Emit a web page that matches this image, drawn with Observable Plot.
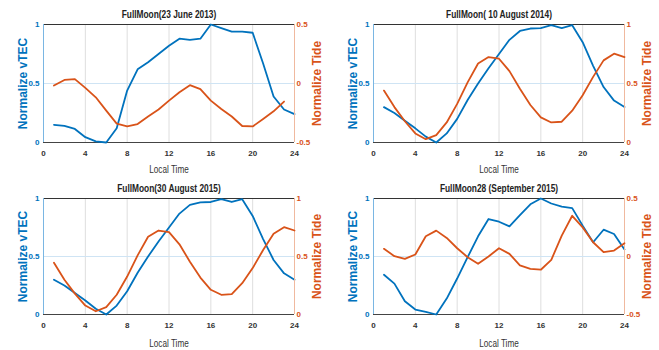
<!DOCTYPE html>
<html>
<head>
<meta charset="utf-8">
<script src="https://cdn.jsdelivr.net/npm/d3@7"></script>
<script src="https://cdn.jsdelivr.net/npm/@observablehq/plot@0.6"></script>
<style>
  html, body { margin: 0; padding: 0; background: #fff; }
  #wrap { position: relative; width: 659px; height: 350px; background: #fff; overflow: hidden; }
  .panel { position: absolute; }
  .panel svg { position: absolute; left: 0; top: 0; }
</style>
</head>
<body>
<div id="wrap"></div>
<script>
// ---- data ----
const hours = [1,2,3,4,5,6,7,8,9,10,11,12,13,14,15,16,17,18,19,20,21,22,23,24];
const xTicks = [0,4,8,12,16,20,24];

const titles = [
  "FullMoon(23 June 2013)",
  "FullMoon( 10 August 2014)",
  "FullMoon(30 August 2015)",
  "FullMoon28 (September 2015)"
];

const vtec2013 = [0.15,0.14,0.115,0.045,0.01,0.0,0.12,0.44,0.62,0.68,0.75,0.82,0.88,0.87,0.88,1.0,0.97,0.94,0.94,0.93,0.67,0.39,0.28,0.24];
const tide2013 = [-0.017,0.03,0.037,-0.037,-0.117,-0.23,-0.34,-0.364,-0.344,-0.28,-0.22,-0.145,-0.074,-0.014,-0.048,-0.145,-0.216,-0.28,-0.36,-0.364,-0.3,-0.236,-0.153];

const vtec2014 = [0.30,0.25,0.185,0.12,0.05,0.0,0.077,0.2,0.36,0.5,0.63,0.75,0.87,0.945,0.966,0.97,0.994,0.97,0.994,0.85,0.65,0.47,0.355,0.30];
const tide2014 = [0.44,0.30,0.18,0.077,0.028,0.063,0.17,0.327,0.51,0.67,0.724,0.71,0.605,0.455,0.318,0.213,0.17,0.176,0.27,0.4,0.556,0.696,0.753,0.724];

const vtecAug2015 = [0.30,0.25,0.185,0.12,0.05,0.0,0.077,0.2,0.36,0.5,0.63,0.75,0.87,0.945,0.966,0.97,0.994,0.97,0.994,0.85,0.65,0.47,0.355,0.30];
const tideAug2015 = [0.446,0.30,0.18,0.077,0.028,0.063,0.17,0.327,0.51,0.67,0.724,0.71,0.605,0.455,0.318,0.213,0.17,0.176,0.27,0.4,0.556,0.696,0.753,0.724];

const vtecSep2015 = [0.343,0.266,0.114,0.043,0.023,0.0,0.137,0.31,0.494,0.674,0.823,0.8,0.76,0.857,0.95,1.0,0.957,0.93,0.917,0.766,0.623,0.731,0.694,0.56];
const tideSep2015 = [0.066,0.003,-0.02,0.017,0.174,0.223,0.16,0.071,-0.006,-0.063,0.0,0.071,0.023,-0.077,-0.106,-0.114,-0.029,0.18,0.351,0.251,0.123,0.037,0.051,0.114];

const vtecTicks = [0, 0.5, 1];
const tideTicksSym = [-0.5, 0, 0.5];
const tideTicksPos = [0, 0.5, 1];

// ---- style ----
const BLUE = "#0072BD";
const ORANGE = "#D95319";
const FONT = "'Liberation Sans', Arial, sans-serif";

const panels = [
  {title: titles[0], vtec: vtec2013, tide: tide2013, tideDomain: [-0.5, 0.5], tideTicks: tideTicksSym, left: 0, top: 0, w: 330, mr: 36, mt: 24, mb: 33, lbl: 27},
  {title: titles[1], vtec: vtec2014, tide: tide2014, tideDomain: [0, 1], tideTicks: tideTicksPos, left: 330, top: 0, w: 329, mr: 35, mt: 24, mb: 33, lbl: 27},
  {title: titles[2], vtec: vtecAug2015, tide: tideAug2015, tideDomain: [0, 1], tideTicks: tideTicksPos, left: 0, top: 175, w: 330, mr: 36, mt: 23, mb: 36, lbl: 29},
  {title: titles[3], vtec: vtecSep2015, tide: tideSep2015, tideDomain: [-0.5, 0.5], tideTicks: tideTicksSym, left: 330, top: 175, w: 329, mr: 35, mt: 23, mb: 36, lbl: 29}
];

function condense(svg, strings, k) {
  d3.select(svg).selectAll("text")
    .filter(function () { return strings.includes(this.textContent); })
    .each(function () {
      const t = this.getAttribute("transform") || "";
      this.setAttribute("transform", t + ` scale(${k},1)`);
    });
}

const wrap = document.getElementById("wrap");

for (const p of panels) {
  const div = document.createElement("div");
  div.className = "panel";
  div.style.left = p.left + "px";
  div.style.top = p.top + "px";
  div.style.width = p.w + "px";
  div.style.height = "175px";
  wrap.appendChild(div);

  const common = {
    width: p.w, height: 175,
    marginTop: p.mt, marginRight: p.mr, marginBottom: p.mb, marginLeft: 43,
    style: {background: "transparent", fontFamily: FONT, overflow: "visible"}
  };

  const back = Plot.plot({
    ...common,
    x: {domain: [0, 24]},
    y: {domain: [0, 1]},
    marks: [
      Plot.gridX(xTicks.slice(1, -1), {stroke: "#dedede", strokeOpacity: 1}),
      Plot.gridY([0.5], {stroke: "#cfe4f4", strokeOpacity: 1}),
      Plot.ruleY([1], {stroke: "#333"}),
      Plot.ruleY([0], {stroke: "#444"}),
      Plot.ruleX([0], {stroke: "#7ab6e3"}),
      Plot.axisX(xTicks, {tickSize: 0, tickPadding: 8, fontSize: 8, fontWeight: "bold", fill: "#333", label: null, tickFormat: d => String(d)}),
      Plot.axisY(vtecTicks, {tickSize: 0, tickPadding: 4, fontSize: 8, fontWeight: "bold", fill: BLUE, label: null, tickFormat: d => String(d)}),
      Plot.text([p.title], {text: d => d, frameAnchor: "top", dy: -7, lineAnchor: "bottom", textAnchor: "middle", fontWeight: "bold", fontSize: 11, fill: "#222"}),
      Plot.text(["Local Time"], {text: d => d, frameAnchor: "bottom", dy: p.lbl, lineAnchor: "middle", textAnchor: "middle", fontSize: 10.5, fill: "#333"}),
      Plot.text(["Normalize vTEC"], {text: d => d, frameAnchor: "left", dx: -20, rotate: -90, lineAnchor: "middle", textAnchor: "middle", fontWeight: "bold", fontSize: 12, fill: BLUE}),
      Plot.line(p.vtec, {x: (d, i) => hours[i], y: d => d, stroke: BLUE, strokeWidth: 1.8})
    ]
  });

  const front = Plot.plot({
    ...common,
    x: {domain: [0, 24], axis: null},
    y: {domain: p.tideDomain},
    marks: [
      Plot.ruleX([24], {stroke: "#f0b99f"}),
      Plot.axisY(p.tideTicks, {anchor: "right", tickSize: 0, tickPadding: 2, fontSize: 8, fontWeight: "bold", fill: ORANGE, label: null, tickFormat: d => String(d)}),
      Plot.text(["Normalize Tide"], {text: d => d, frameAnchor: "right", dx: 23, rotate: -90, lineAnchor: "middle", textAnchor: "middle", fontWeight: "bold", fontSize: 12, fill: ORANGE}),
      Plot.line(p.tide, {x: (d, i) => hours[i], y: d => d, stroke: ORANGE, strokeWidth: 1.8})
    ]
  });

  condense(back, [p.title], 0.76);
  condense(back, ["Local Time"], 0.78);

  div.appendChild(back);
  div.appendChild(front);
}
</script>
</body>
</html>
